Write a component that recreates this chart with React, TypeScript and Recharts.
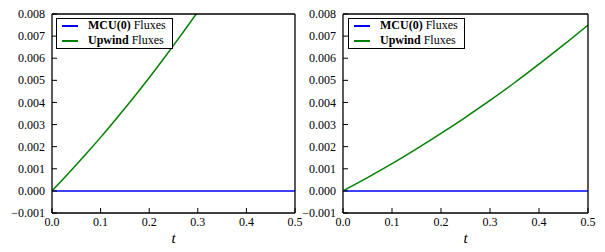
import React from 'react';
import { LineChart, Line, XAxis, YAxis, Legend } from 'recharts';

const tTicks = [0, 0.1, 0.2, 0.3, 0.4, 0.5];
const yTicks = [-0.001, 0, 0.001, 0.002, 0.003, 0.004, 0.005, 0.006, 0.007, 0.008];

const mcuT = [0, 0.5];
const mcuValues = [0, 0];

const leftT = [0, 0.025, 0.05, 0.075, 0.1, 0.125, 0.15, 0.175, 0.2, 0.225, 0.25, 0.275, 0.3];
const leftUpwind = [0, 0.00058, 0.00118, 0.00179, 0.00242, 0.00307, 0.00374, 0.00442, 0.00512, 0.00584, 0.00658, 0.00733, 0.0081];

const rightT = [0, 0.05, 0.1, 0.15, 0.2, 0.25, 0.3, 0.35, 0.4, 0.45, 0.5];
const rightUpwind = [0, 0.0006, 0.00123, 0.0019, 0.0026, 0.00333, 0.00409, 0.00489, 0.00573, 0.0066, 0.0075];

const seriesNames = ['MCU(0)', 'Upwind'];
const seriesColors = ['#0000ff', '#008000'];

const FONT = 'Liberation Serif';
const TICK_FS = 12;

const zip = (ts: number[], vs: number[]) => ts.map((t, i) => ({ t, v: vs[i] }));

const fmtY = (v: number) => {
  const s = Math.abs(v).toFixed(3);
  return v < -1e-12 ? '\u2212' + s : s;
};

const XTick = (props: any) => {
  const { x, y, payload } = props;
  return (
    <text
      x={x}
      y={y}
      dy="0.71em"
      textAnchor="middle"
      fill="#000"
      fontFamily={FONT}
      fontSize={TICK_FS}
    >
      {Number(payload.value).toFixed(1)}
    </text>
  );
};

const YTick = (props: any) => {
  const { x, y, payload } = props;
  return (
    <text
      x={x}
      y={y}
      dy="0.34em"
      textAnchor="end"
      fill="#000"
      fontFamily={FONT}
      fontSize={TICK_FS}
    >
      {fmtY(Number(payload.value))}
    </text>
  );
};

const LegendBox = () => (
  <div
    style={{
      position: 'relative',
      width: 117,
      height: 31,
      border: '1.3px solid #000',
      boxSizing: 'border-box',
      background: '#fff',
      fontFamily: FONT,
      fontSize: 12,
      color: '#000',
    }}
  >
    {seriesNames.map((name, i) => (
      <React.Fragment key={name}>
        <div
          style={{
            position: 'absolute',
            left: 5,
            top: 6.2 + i * 15,
            width: 16,
            height: 1.6,
            background: seriesColors[i],
          }}
        />
        <div
          style={{
            position: 'absolute',
            left: 31,
            top: -0.6 + i * 15,
            height: 15,
            lineHeight: '15px',
            whiteSpace: 'nowrap',
          }}
        >
          <b>{name}</b> Fluxes
        </div>
      </React.Fragment>
    ))}
  </div>
);

type PanelProps = {
  width: number;
  margin: { top: number; right: number; left: number; bottom: number };
  yWidth: number;
  upT: number[];
  upV: number[];
  legendLeft: number;
};

const Panel = ({ width, margin, yWidth, upT, upV, legendLeft }: PanelProps) => (
  <LineChart width={width} height={252} margin={margin}>
    <XAxis
      dataKey="t"
      type="number"
      domain={[0, 0.5]}
      ticks={tTicks}
      interval={0}
      allowDataOverflow
      height={25}
      tickSize={-5}
      tickMargin={9}
      axisLine={{ stroke: '#000', strokeWidth: 1.3 }}
      tickLine={{ stroke: '#000', strokeWidth: 1 }}
      tick={<XTick />}
      label={{
        value: 't',
        position: 'bottom',
        offset: -6,
        style: { fontFamily: FONT, fontStyle: 'italic', fontSize: 15, fill: '#000' },
      }}
    />
    <XAxis
      xAxisId="top"
      orientation="top"
      dataKey="t"
      type="number"
      domain={[0, 0.5]}
      ticks={tTicks}
      interval={0}
      allowDataOverflow
      height={1}
      tickSize={-5}
      tick={false}
      axisLine={{ stroke: '#000', strokeWidth: 1.3 }}
      tickLine={{ stroke: '#000', strokeWidth: 1 }}
    />
    <YAxis
      type="number"
      domain={[-0.001, 0.008]}
      ticks={yTicks}
      interval={0}
      allowDataOverflow
      width={yWidth}
      tickSize={-5}
      tickMargin={12}
      axisLine={{ stroke: '#000', strokeWidth: 1.3 }}
      tickLine={{ stroke: '#000', strokeWidth: 1 }}
      tick={<YTick />}
    />
    <YAxis
      yAxisId="right"
      orientation="right"
      type="number"
      domain={[-0.001, 0.008]}
      ticks={yTicks}
      interval={0}
      allowDataOverflow
      width={1}
      tickSize={-5}
      tick={false}
      axisLine={{ stroke: '#000', strokeWidth: 1.3 }}
      tickLine={{ stroke: '#000', strokeWidth: 1 }}
    />
    <Line
      data={zip(mcuT, mcuValues)}
      dataKey="v"
      name={seriesNames[0]}
      type="linear"
      stroke={seriesColors[0]}
      strokeWidth={1.5}
      dot={false}
      isAnimationActive={false}
    />
    <Line
      data={zip(upT, upV)}
      dataKey="v"
      name={seriesNames[1]}
      type="monotone"
      stroke={seriesColors[1]}
      strokeWidth={1.5}
      dot={false}
      isAnimationActive={false}
    />
    <Legend
      layout="vertical"
      align="center"
      verticalAlign="middle"
      content={() => <LegendBox />}
      wrapperStyle={{ left: legendLeft, top: 18, width: 117, height: 31 }}
    />
  </LineChart>
);

export default function App() {
  return (
    <div
      style={{
        position: 'absolute',
        left: 0,
        top: 0,
        width: 605,
        height: 252,
        background: '#fff',
      }}
    >
      <div style={{ position: 'absolute', left: 0, top: 0 }}>
        <Panel
          width={312}
          margin={{ top: 13, right: 16, left: 8, bottom: 14 }}
          yWidth={44}
          upT={leftT}
          upV={leftUpwind}
          legendLeft={56}
        />
      </div>
      <div style={{ position: 'absolute', left: 300, top: 0 }}>
        <Panel
          width={305}
          margin={{ top: 13, right: 16, left: 0, bottom: 14 }}
          yWidth={43}
          upT={rightT}
          upV={rightUpwind}
          legendLeft={48}
        />
      </div>
    </div>
  );
}
